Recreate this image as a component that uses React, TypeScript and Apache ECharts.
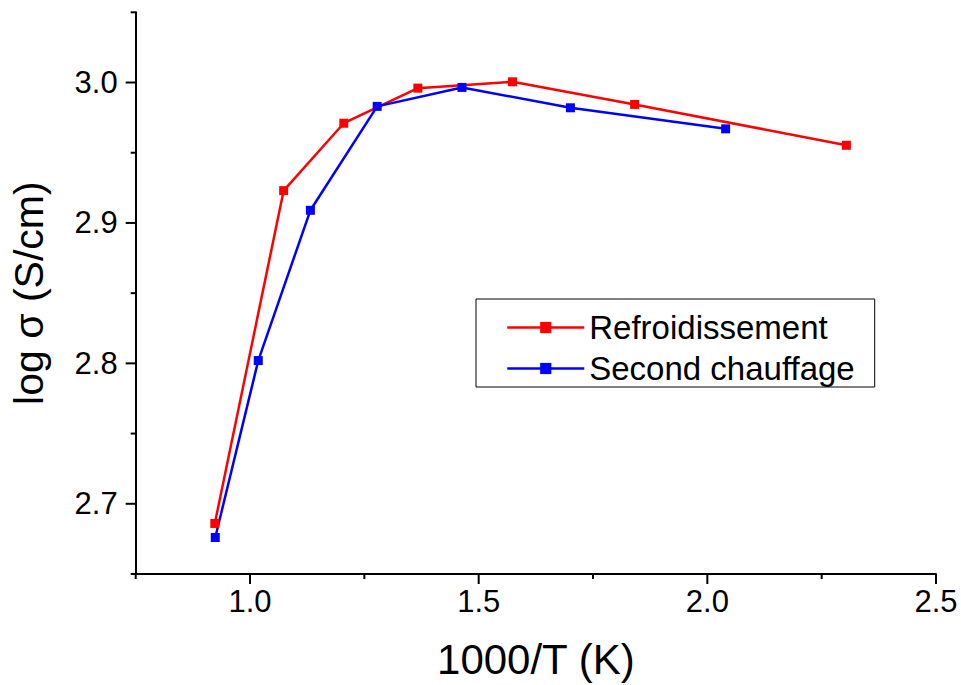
import React, { useEffect, useRef } from "react";
import * as echarts from "echarts";

const redName = "Refroidissement";
const blueName = "Second chauffage";
const redX = [0.923, 1.0735, 1.205, 1.367, 1.574, 1.841, 2.304];
const redY = [2.686, 2.923, 2.971, 2.996, 3.0005, 2.9844, 2.9553];
const blueX = [0.924, 1.018, 1.132, 1.278, 1.4635, 1.7006, 2.04];
const blueY = [2.676, 2.802, 2.909, 2.983, 2.9965, 2.982, 2.967];
const xMajor = [1.0, 1.5, 2.0, 2.5];
const xMinor = [0.75, 1.25, 1.75, 2.25];
const yMajor = [2.7, 2.8, 2.9, 3.0];
const yMinor = [2.65, 2.75, 2.85, 2.95, 3.05];
const xMin = 0.75;
const xMax = 2.5;
const yMin = 2.65;
const yMax = 3.05;
const xTitle = "1000/T (K)";
const yTitle = "log σ (S/cm)";

const FONT = "'Liberation Sans', Arial, sans-serif";

export default function App() {
  const ref = useRef<HTMLDivElement>(null);
  useEffect(() => {
    if (!ref.current) return;
    const chart = echarts.init(ref.current, null, { renderer: "svg" });
    const axisLine = { show: true, onZero: false, lineStyle: { color: "#000", width: 2 } };
    const xRange = { type: "value", min: xMin, max: xMax, gridIndex: 0, position: "bottom", offset: 0 };
    const yRange = { type: "value", min: yMin, max: yMax, gridIndex: 0, position: "left", offset: 0 };
    const tickSeries = (values: number[], horizontal: boolean, len: number) => ({
      type: "custom",
      silent: true,
      clip: false,
      z: 100,
      zlevel: 1,
      xAxisIndex: 0,
      yAxisIndex: 0,
      data: values.map((v) => (horizontal ? [v, yMin] : [xMin, v])),
      renderItem: (_p: any, api: any) => {
        const pt = api.coord([api.value(0), api.value(1)]);
        const shape = horizontal
          ? { x: pt[0] - 1, y: pt[1], width: 2, height: len }
          : { x: pt[0] - len, y: pt[1] - 1, width: len, height: 2 };
        return { type: "rect", shape, style: { fill: "#000" } };
      },
    });
    const labelStyle = {
      fontFamily: FONT,
      fontSize: 31,
      color: "#000",
    };
    chart.setOption({
      animation: false,
      textStyle: { fontFamily: FONT },
      grid: { left: 135.7, right: 25, top: 12.3, bottom: 110, containLabel: false },
      legend: {
        left: 476,
        top: 299,
        orient: "vertical",
        borderColor: "#000",
        borderWidth: 1,
        padding: [12, 20, 2, 30],
        itemGap: 8,
        itemWidth: 77,
        itemHeight: 14,
        lineStyle: { width: 2.5 },
        textStyle: { fontFamily: FONT, fontSize: 33, color: "#000" },
        data: [redName, blueName],
      },
      xAxis: [
        {
          ...xRange,
          axisLine,
          splitLine: { show: false },
          axisTick: { show: false },
          axisLabel: {
            ...labelStyle,
            customValues: xMajor,
            formatter: (v: number) => v.toFixed(1),
            margin: 12,
          },
          name: xTitle,
          nameLocation: "middle",
          nameGap: 64,
          nameTextStyle: { fontFamily: FONT, fontSize: 42, color: "#000" },
        },
      ],
      yAxis: [
        {
          ...yRange,
          axisLine,
          splitLine: { show: false },
          axisTick: { show: false },
          axisLabel: {
            ...labelStyle,
            customValues: yMajor,
            formatter: (v: number) => v.toFixed(1),
            margin: 18,
          },
          name: yTitle,
          nameLocation: "middle",
          nameGap: 86,
          nameTextStyle: { fontFamily: FONT, fontSize: 41, color: "#000" },
        },
      ],
      series: [
        tickSeries(xMajor, true, 10),
        tickSeries(xMinor, true, 5),
        tickSeries(yMajor, false, 10),
        tickSeries(yMinor, false, 5),
        {
          name: redName,
          type: "line",
          xAxisIndex: 0,
          yAxisIndex: 0,
          data: redX.map((x, i) => [x, redY[i]]),
          symbol: "rect",
          symbolSize: 9,
          showSymbol: true,
          itemStyle: { color: "#ff0000" },
          lineStyle: { color: "#ff0000", width: 2.5 },
        },
        {
          name: blueName,
          type: "line",
          xAxisIndex: 0,
          yAxisIndex: 0,
          data: blueX.map((x, i) => [x, blueY[i]]),
          symbol: "rect",
          symbolSize: 9,
          showSymbol: true,
          itemStyle: { color: "#0000ff" },
          lineStyle: { color: "#0000ff", width: 2.5 },
        },
      ],
    });
    return () => chart.dispose();
  }, []);
  return (
    <div
      ref={ref}
      style={{ position: "fixed", left: 0, top: 0, width: 961, height: 685, background: "#fff" }}
    />
  );
}
